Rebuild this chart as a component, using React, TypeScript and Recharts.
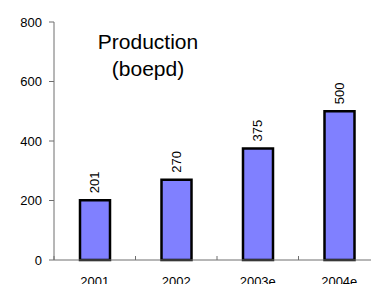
import { Bar, BarChart, XAxis, YAxis, LabelList } from "recharts"

const years = ["2001", "2002", "2003e", "2004e"]
const production = [201, 270, 375, 500]
const yTicks = [0, 200, 400, 600, 800]

const data = years.map((year, i) => ({ year, production: production[i] }))

const axisColor = "#6e6e6e"
const font = "'Liberation Sans', Arial, sans-serif"

const YearTick = (props: any) => {
    const { x, y, payload, width, visibleTicksCount } = props
    let half = payload.offset
    if (!half && width && visibleTicksCount) half = width / visibleTicksCount / 2
    return (
        <g>
            {half ? <line x1={x - half} x2={x - half} y1={y - 4} y2={y} stroke={axisColor} strokeWidth={1} /> : null}
            <text x={x} y={y + 25.5} textAnchor="middle" fontSize={13} fill="#000" fontFamily={font}>
                {payload.value}
            </text>
        </g>
    )
}

const ValueLabel = (props: any) => {
    const { x, y, width, value } = props
    return (
        <text
            transform={`translate(${x + width / 2 - 0.5}, ${y - 7}) rotate(-90)`}
            textAnchor="start"
            dominantBaseline="central"
            fontSize={13}
            fill="#000"
            fontFamily={font}
        >
            {value}
        </text>
    )
}

export default function App() {
    return (
        <div style={{ position: "absolute", left: 0, top: 0, width: 371, height: 284, overflow: "hidden", background: "#fff", fontFamily: font }}>
            <BarChart
                width={390}
                height={300}
                data={data}
                margin={{ top: 22, right: 10, left: 0, bottom: 0 }}
            >
                <XAxis
                    dataKey="year"
                    height={40}
                    stroke={axisColor}
                    tickLine={false}
                    tickSize={0}
                    tickMargin={0}
                    tick={<YearTick />}
                    interval={0}
                />
                <YAxis
                    width={54}
                    domain={[0, 800]}
                    ticks={yTicks}
                    stroke={axisColor}
                    tickSize={5}
                    tickMargin={7}
                    tick={{ fill: "#000", fontSize: 13, fontFamily: font }}
                    interval={0}
                />
                <Bar dataKey="production" fill="#8080ff" stroke="#000" strokeWidth={2.5} barSize={30} isAnimationActive={false}>
                    <LabelList dataKey="production" content={<ValueLabel />} />
                </Bar>
            </BarChart>
            <div
                style={{
                    position: "absolute",
                    left: 48,
                    top: 28,
                    width: 200,
                    textAlign: "center",
                    fontSize: 21,
                    lineHeight: "27px",
                    color: "#000",
                }}
            >
                Production
                <br />
                (boepd)
            </div>
        </div>
    )
}
